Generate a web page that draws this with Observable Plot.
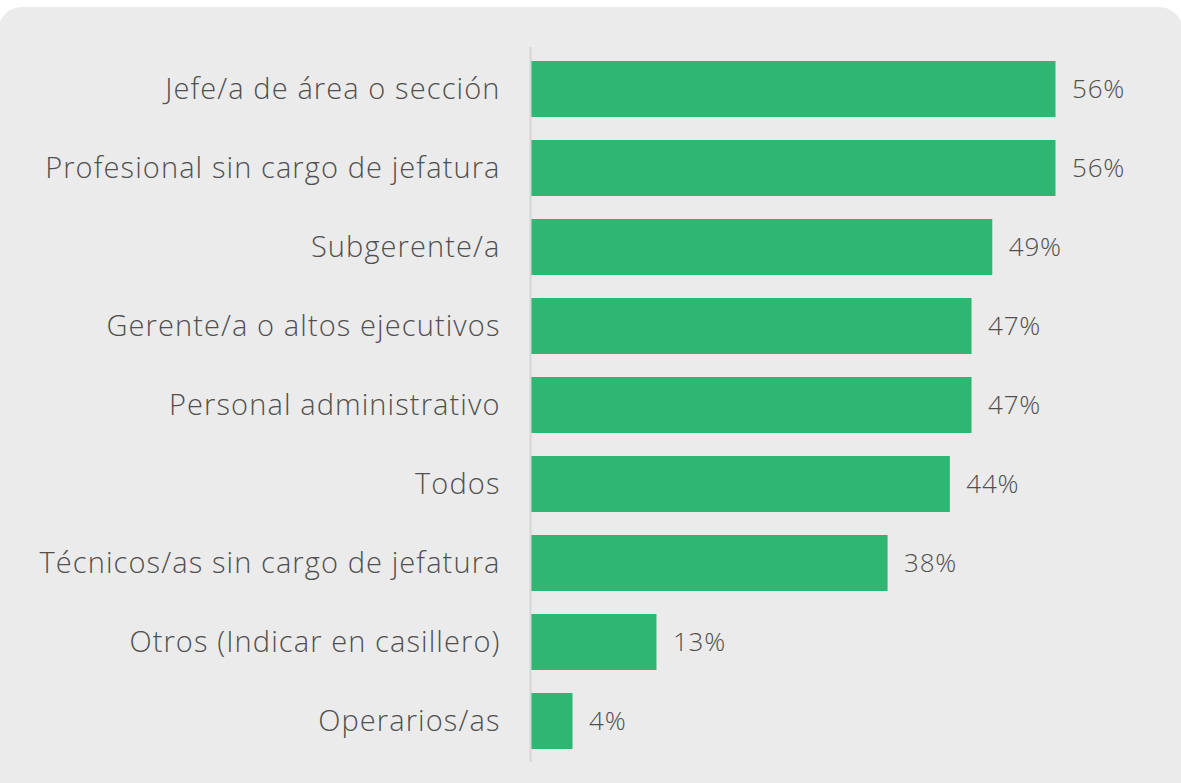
<!DOCTYPE html>
<html>
<head>
<meta charset="utf-8">
<script src="https://cdn.jsdelivr.net/npm/d3@7"></script>
<script src="https://cdn.jsdelivr.net/npm/@observablehq/plot@0.6"></script>
<style>
  html, body { margin: 0; padding: 0; background: #ffffff; overflow: hidden; }
  #wrap { position: relative; width: 1181px; height: 783px; }
  #panel { position: absolute; left: -2px; top: 7px; width: 1185px; height: 800px;
           background: #ebebeb; border-radius: 24px; }
  #chart { position: absolute; left: 0; top: 0; }
  #chart svg g[aria-label="y-axis tick label"] text { letter-spacing: 1.1px; }
  #chart svg g[aria-label="text"] text { letter-spacing: 0.8px; }
</style>
</head>
<body>
<div id="wrap">
  <div id="panel"></div>
  <div id="chart"></div>
</div>
<script>
const categories = [
  "Jefe/a de área o sección",
  "Profesional sin cargo de jefatura",
  "Subgerente/a",
  "Gerente/a o altos ejecutivos",
  "Personal administrativo",
  "Todos",
  "Técnicos/as sin cargo de jefatura",
  "Otros (Indicar en casillero)",
  "Operarios/as"
];
const values = [55.6, 55.6, 48.9, 46.7, 46.7, 44.4, 37.8, 13.3, 4.4];
const labels = ["56%", "56%", "49%", "47%", "47%", "44%", "38%", "13%", "4%"];

const data = categories.map((c, i) => ({category: c, value: values[i], label: labels[i]}));

const chart = Plot.plot({
  width: 1181,
  height: 783,
  marginLeft: 531,
  marginRight: 84,
  marginTop: 36,
  marginBottom: 9,
  style: {background: "transparent", fontFamily: "'Open Sans', sans-serif", color: "#555555"},
  x: {domain: [0, 60], axis: null},
  y: {domain: categories, padding: 0.295, label: null},
  marks: [
    Plot.barX(data, {y: "category", x: "value", fill: "#2eb672"}),
    Plot.ruleX([0], {stroke: "#d6d6d6", strokeWidth: 2, dx: -1, insetTop: 11, insetBottom: 12}),
    Plot.text(data, {y: "category", x: "value", text: "label", dx: 16, textAnchor: "start",
                     fontSize: 26, fontWeight: 300, fill: "#505050"}),
    Plot.axisY({tickSize: 0, tickPadding: 31, fontSize: 29, fontWeight: 300, label: null, fill: "#505050"})
  ]
});
document.getElementById("chart").appendChild(chart);
</script>
</body>
</html>
